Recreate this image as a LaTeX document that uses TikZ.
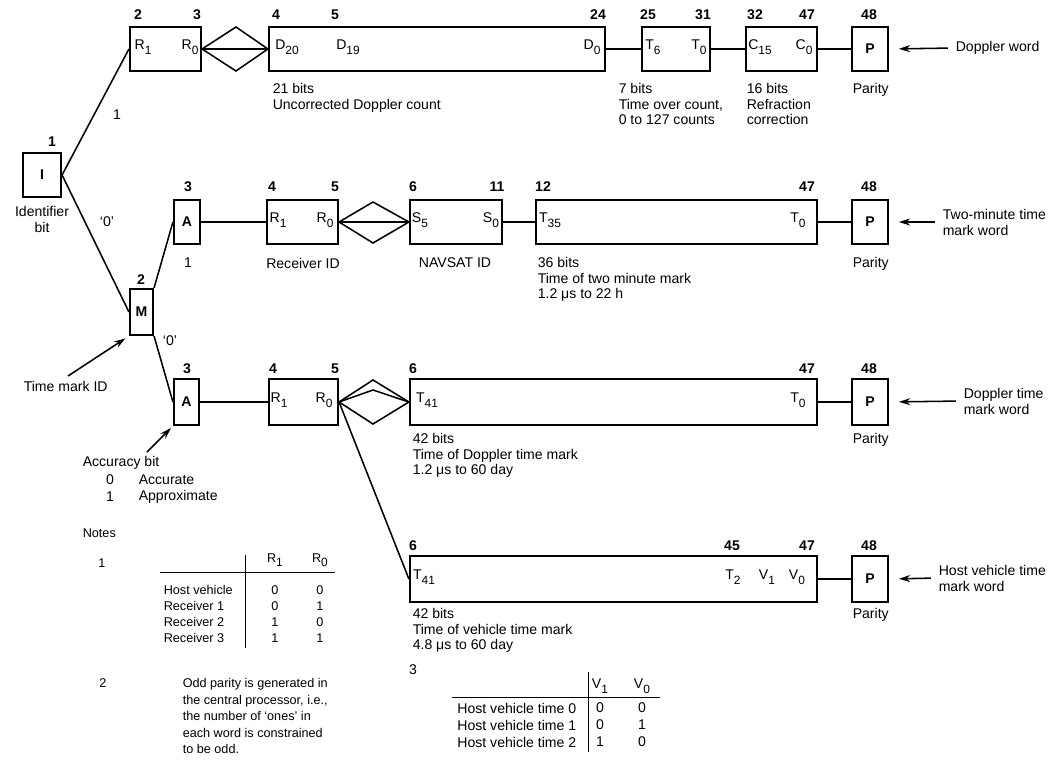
\documentclass[tikz,border=0pt]{standalone}
\usepackage{fontspec}
\setmainfont{Liberation Sans}
\usetikzlibrary{arrows.meta,positioning}
\newcommand{\bitsub}[2]{#1\raisebox{-0.6ex}{\fontsize{8.5}{9}\selectfont #2}}

\begin{document}
\begin{tikzpicture}[x=0.025cm, y=-0.025cm, line width=1.1pt,
  >={Stealth[length=8pt,width=5pt]},
  field/.style={draw, line width=1.5pt, minimum height=1.1cm, inner sep=0pt,
    font=\fontsize{10}{12}\selectfont\bfseries},
  bitnum/.style={font=\fontsize{10}{12}\selectfont\bfseries, inner sep=0pt},
  inlabel/.style={font=\fontsize{10}{12}\selectfont, inner sep=0pt},
  caption/.style={font=\fontsize{10}{10.7}\selectfont, align=left, anchor=north west, inner sep=0pt},
  wordlabel/.style={font=\fontsize{10}{11.4}\selectfont, align=left, anchor=west, inner sep=0pt},
  notetext/.style={font=\fontsize{9}{11.7}\selectfont, inner sep=0pt}]
\useasboundingbox (0,0) rectangle (1053,768);

% identifier bit and time mark bit
\node[field, minimum width=0.95cm] (idb) at (42,175) {I};
\node[bitnum] (n1) at (52,142) {1};
\node[caption, anchor=north, align=center] (idcap) at (42,206) {Identifier\\bit};
\node[field, minimum width=0.575cm, minimum height=1.15cm] (mk) at (141.5,312) {M};
\node[bitnum] (nm) at (141,280) {2};

% Doppler word
\node[field, minimum width=1.775cm] (rr1) at (165.5,49) {};
\node[field, minimum width=8.4cm] (dop) at (437,49) {};
\node[field, minimum width=1.7cm] (tov) at (676,49) {};
\node[field, minimum width=1.775cm] (ref) at (781.5,49) {};
\node[field, minimum width=0.9cm] (par1) at (870,49) {P};
\node[bitnum] (n1a) at (138,15) {2};
\node[bitnum] (n1b) at (197,15) {3};
\node[bitnum] (n1c) at (276,15) {4};
\node[bitnum] (n1d) at (335,15) {5};
\node[bitnum] (n1e) at (598,15) {24};
\node[bitnum] (n1f) at (648,15) {25};
\node[bitnum] (n1g) at (703,15) {31};
\node[bitnum] (n1h) at (755,15) {32};
\node[bitnum] (n1i) at (807,15) {47};
\node[bitnum] (n1j) at (869,15) {48};
\node[inlabel] (l1a) at (143,47) {\bitsub{R}{1}};
\node[inlabel] (l1b) at (190,47) {\bitsub{R}{0}};
\node[inlabel] (l1c) at (287,47) {\bitsub{D}{20}};
\node[inlabel] (l1d) at (348,47) {\bitsub{D}{19}};
\node[inlabel] (l1e) at (592,47) {\bitsub{D}{0}};
\node[inlabel] (l1f) at (653,47) {\bitsub{T}{6}};
\node[inlabel] (l1g) at (699,47) {\bitsub{T}{0}};
\node[inlabel] (l1h) at (760,47) {\bitsub{C}{15}};
\node[inlabel] (l1i) at (804,47) {\bitsub{C}{0}};
\coordinate (d1t) at (236,27);
\coordinate (d1b) at (236,71);
\draw (rr1.east) -- (d1t) -- (dop.west) -- (d1b) -- cycle;
\draw (rr1.east) -- (dop.west);
\draw (dop.east) -- (tov.west);
\draw (tov.east) -- (ref.west);
\draw (ref.east) -- (par1.west);
\node[caption] (c1a) at (272,83) {21 bits\\Uncorrected Doppler count};
\node[caption] (c1b) at (618,83) {7 bits\\Time over count,\\0 to 127 counts};
\node[caption] (c1c) at (746,83) {16 bits\\Refraction\\correction};
\node[caption] (c1d) at (852,83) {Parity};
\node[wordlabel] (w1) at (955,48) {Doppler word};
\draw[->, shorten <=5pt, shorten >=7pt] (w1.west) -- (par1.east);

% two-minute time mark word
\node[field, minimum width=0.65cm] (a2) at (187,222) {A};
\node[field, minimum width=1.775cm] (rr2) at (302.5,222) {};
\node[field, minimum width=2.3cm] (sv) at (456,222) {};
\node[field, minimum width=7.025cm] (t2) at (676.5,222) {};
\node[field, minimum width=0.9cm] (par2) at (870,222) {P};
\node[bitnum] (n2a) at (188,187) {3};
\node[bitnum] (n2b) at (272,187) {4};
\node[bitnum] (n2c) at (335,187) {5};
\node[bitnum] (n2d) at (413,187) {6};
\node[bitnum] (n2e) at (497,187) {11};
\node[bitnum] (n2f) at (543,187) {12};
\node[bitnum] (n2g) at (807,187) {47};
\node[bitnum] (n2h) at (869,187) {48};
\node[inlabel] (l2a) at (278,220) {\bitsub{R}{1}};
\node[inlabel] (l2b) at (325,220) {\bitsub{R}{0}};
\node[inlabel] (l2c) at (420,220) {\bitsub{S}{5}};
\node[inlabel] (l2d) at (491,220) {\bitsub{S}{0}};
\node[inlabel] (l2e) at (550,220) {\bitsub{T}{35}};
\node[inlabel] (l2f) at (798,220) {\bitsub{T}{0}};
\coordinate (d2t) at (373,202);
\coordinate (d2b) at (373,243);
\draw (rr2.east) -- (d2t) -- (sv.west) -- (d2b) -- cycle;
\draw (rr2.east) -- (sv.west);
\draw (a2.east) -- (rr2.west);
\draw (sv.east) -- (t2.west);
\draw (t2.east) -- (par2.west);
\node[inlabel] (c2a) at (188,263) {1};
\node[inlabel] (c2b) at (303,263) {Receiver ID};
\node[inlabel] (c2c) at (455,263) {NAVSAT ID};
\node[caption] (c2d) at (537,257) {36 bits\\Time of two minute mark\\1.2 μs to 22 h};
\node[caption] (c2e) at (852,257) {Parity};
\node[wordlabel] (w2) at (942,222) {Two-minute time\\mark word};
\draw[->, shorten <=5pt, shorten >=7pt] (w2.west) -- (par2.east);

% Doppler time mark word
\node[field, minimum width=0.625cm, minimum height=1.15cm] (a3) at (186.5,402) {A};
\node[field, minimum width=1.725cm, minimum height=1.15cm] (rr3) at (303.5,402) {};
\node[field, minimum width=10.175cm, minimum height=1.15cm] (t3) at (613.5,402) {};
\node[field, minimum width=0.9cm, minimum height=1.15cm] (par3) at (870,402) {P};
\node[bitnum] (n3a) at (187,369) {3};
\node[bitnum] (n3b) at (273,369) {4};
\node[bitnum] (n3c) at (335,369) {5};
\node[bitnum] (n3d) at (413,369) {6};
\node[bitnum] (n3e) at (807,369) {47};
\node[bitnum] (n3f) at (869,369) {48};
\node[inlabel] (l3a) at (279,400) {\bitsub{R}{1}};
\node[inlabel] (l3b) at (324,400) {\bitsub{R}{0}};
\node[inlabel] (l3c) at (427,400) {\bitsub{T}{41}};
\node[inlabel] (l3d) at (798,400) {\bitsub{T}{0}};
\coordinate (d3t) at (373,380);
\coordinate (d3m) at (373,390);
\coordinate (d3b) at (373,424);
\draw (rr3.east) -- (d3t) -- (t3.west) -- (d3b) -- cycle;
\draw (rr3.east) -- (d3m) -- (t3.west);
\draw (a3.east) -- (rr3.west);
\draw (t3.east) -- (par3.west);
\node[caption] (c3a) at (412,433) {42 bits\\Time of Doppler time mark\\1.2 μs to 60 day};
\node[caption] (c3b) at (852,433) {Parity};
\node[wordlabel] (w3) at (963,401) {Doppler time\\mark word};
\draw[->, shorten <=5pt, shorten >=7pt] (w3.west) -- (par3.east);

% host vehicle time mark word
\node[field, minimum width=10.175cm, minimum height=1.15cm] (t4) at (613.5,579) {};
\node[field, minimum width=0.9cm, minimum height=1.15cm] (par4) at (870,579) {P};
\node[bitnum] (n4a) at (413,546) {6};
\node[bitnum] (n4b) at (732,546) {45};
\node[bitnum] (n4c) at (807,546) {47};
\node[bitnum] (n4d) at (869,546) {48};
\node[inlabel] (l4a) at (424,577) {\bitsub{T}{41}};
\node[inlabel] (l4b) at (733,577) {\bitsub{T}{2}};
\node[inlabel] (l4c) at (767,577) {\bitsub{V}{1}};
\node[inlabel] (l4d) at (797,577) {\bitsub{V}{0}};
\draw (t4.east) -- (par4.west);
\draw (rr3.east) -- (t4.west);
\node[caption] (c4a) at (412,608) {42 bits\\Time of vehicle time mark\\4.8 μs to 60 day};
\node[caption] (c4b) at (852,608) {Parity};
\node[wordlabel] (w4) at (938,578) {Host vehicle time\\mark word};
\draw[->, shorten <=5pt, shorten >=7pt] (w4.west) -- (par4.east);

% tree from the identifier bit
\draw (idb.east) -- (rr1.west);
\draw (idb.east) -- (mk.west);
\draw (mk.north east) -- (a2.west);
\draw (mk.south east) -- (a3.west);
\node[inlabel] (b1) at (117,115) {1};
\node[inlabel] (b0) at (107,222) {‘0’};
\node[inlabel] (b2) at (170,341) {‘0’};

% pointers
\node[inlabel, anchor=west] (tmid) at (23,386) {Time mark ID};
\coordinate (tmtail) at (68,376);
\draw[->, shorten >=3pt] (tmtail) -- (mk.south west);
\node[inlabel, anchor=west] (acc) at (82,463) {Accuracy bit};
\node[inlabel] (acc0) at (110,480) {0};
\node[inlabel, anchor=west] (acc0t) at (138,480) {Accurate};
\node[inlabel] (acc1) at (110,497) {1};
\node[inlabel, anchor=west] (acc1t) at (138,497) {Approximate};
\coordinate (acctail) at (147,452);
\draw[->, shorten >=2pt] (acctail) -- (a3.south west);

% notes
\node[notetext, anchor=west] (notes) at (82,533) {Notes};
\node[notetext] (nt1) at (102,563) {1};
\node[notetext] (h1) at (275,560) {\bitsub{R}{1}};
\node[notetext] (h0) at (320,560) {\bitsub{R}{0}};
\coordinate (t1l) at (160,572);
\coordinate (t1r) at (335,572);
\coordinate (t1t) at (245,555);
\coordinate (t1b) at (245,648);
\draw[line width=0.6pt] (t1l) -- (t1r);
\draw[line width=0.6pt] (t1t) -- (t1b);
\node[notetext, anchor=west] (r1a) at (163,590) {Host vehicle};
\node[notetext, anchor=west] (r1b) at (163,606) {Receiver 1};
\node[notetext, anchor=west] (r1c) at (163,622) {Receiver 2};
\node[notetext, anchor=west] (r1d) at (163,638) {Receiver 3};
\node[notetext] (v1a) at (275,590) {0};
\node[notetext] (v1b) at (320,590) {0};
\node[notetext] (v1c) at (275,606) {0};
\node[notetext] (v1d) at (320,606) {1};
\node[notetext] (v1e) at (275,622) {1};
\node[notetext] (v1f) at (320,622) {0};
\node[notetext] (v1g) at (275,638) {1};
\node[notetext] (v1h) at (320,638) {1};
\node[notetext] (nt2) at (103,683) {2};
\node[notetext, anchor=north west, align=left] (odd) at (182,678)
  {Odd parity is generated in\\the central processor, i.e.,\\the number of ‘ones’ in\\each word is constrained\\to be odd.};
\node[inlabel] (nt3) at (413,670) {3};
\node[inlabel] (hv1) at (600,686) {\bitsub{V}{1}};
\node[inlabel] (hv0) at (642,686) {\bitsub{V}{0}};
\coordinate (t3l) at (452,697);
\coordinate (t3r) at (660,697);
\coordinate (t3t) at (588,672);
\coordinate (t3b) at (588,752);
\draw[line width=0.6pt] (t3l) -- (t3r);
\draw[line width=0.6pt] (t3t) -- (t3b);
\node[inlabel, anchor=east] (r3a) at (577,708) {Host vehicle time 0};
\node[inlabel, anchor=east] (r3b) at (577,725) {Host vehicle time 1};
\node[inlabel, anchor=east] (r3c) at (577,742) {Host vehicle time 2};
\node[inlabel] (v3a) at (600,708) {0};
\node[inlabel] (v3b) at (642,708) {0};
\node[inlabel] (v3c) at (600,725) {0};
\node[inlabel] (v3d) at (642,725) {1};
\node[inlabel] (v3e) at (600,742) {1};
\node[inlabel] (v3f) at (642,742) {0};
\end{tikzpicture}
\end{document}
